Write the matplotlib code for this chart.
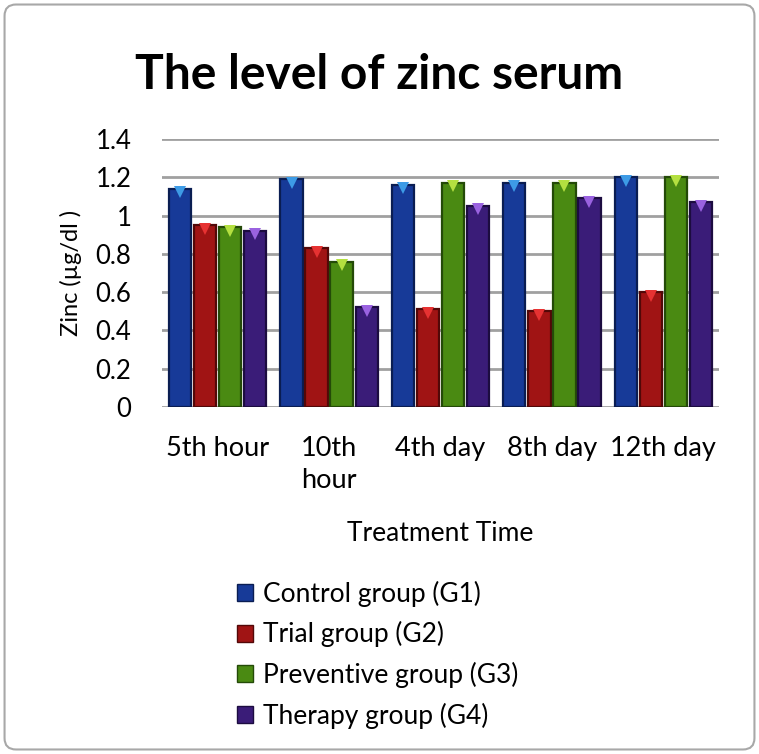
import numpy as np
import matplotlib
matplotlib.use("Agg")
import matplotlib.pyplot as plt
from matplotlib.patches import Patch, FancyBboxPatch

plt.rcParams['font.family'] = ['Lato', 'DejaVu Sans']

# Data
categories = ["5th hour", "10th\nhour", "4th day", "8th day", "12th day"]
groups = ["Control group (G1)", "Trial group (G2)", "Preventive group (G3)", "Therapy group (G4)"]
control = [1.14, 1.19, 1.16, 1.17, 1.20]
trial = [0.95, 0.83, 0.51, 0.50, 0.60]
preventive = [0.94, 0.76, 1.17, 1.17, 1.20]
therapy = [0.92, 0.52, 1.05, 1.09, 1.07]
yticks = [0, 0.2, 0.4, 0.6, 0.8, 1, 1.2, 1.4]
ytick_labels = ["0", "0.2", "0.4", "0.6", "0.8", "1", "1.2", "1.4"]

series = [control, trial, preventive, therapy]
colors = ["#173a98", "#a01414", "#4a8a12", "#3a1c78"]
edges = ["#0a1d52", "#520808", "#244a08", "#1c0c40"]
tips = ["#3d9be6", "#e63232", "#b4e040", "#9a62e0"]

fig = plt.figure(figsize=(7.59, 7.54), dpi=100)
ax = fig.add_axes([162 / 759, 1 - 407 / 754, 557 / 759, 268 / 754])

x = np.arange(len(categories))
width = 0.2
step = 0.225
for i, vals in enumerate(series):
    pos = x + (i - 1.5) * step
    ax.bar(pos, vals, width, color=colors[i], edgecolor=edges[i], linewidth=1.6, zorder=3)
    ax.plot(pos, np.array(vals) - 0.018, linestyle="none", marker="v", markersize=9,
            color=tips[i], markeredgewidth=0, zorder=4)

ax.set_xlim(-0.5, len(categories) - 0.5)
ax.set_ylim(0, 1.4)
ax.set_yticks(yticks)
ax.set_yticklabels(ytick_labels, fontsize=18.5)
ax.set_xticks(x)
ax.set_xticklabels(categories, fontsize=19.5, va="top", linespacing=1.35)
ax.tick_params(axis="y", length=0, pad=22)
ax.tick_params(axis="x", length=0, pad=21)
ax.grid(axis="y", color="#a0a0a0", linewidth=2, zorder=0)
for s in ax.spines.values():
    s.set_visible(False)
ax.set_axisbelow(True)

ax.set_ylabel("Zinc (µg/dl )", fontsize=17, labelpad=10)
ax.set_xlabel("Treatment Time", fontsize=19, labelpad=20)

fig.text(0.5, 1 - 75 / 754, "The level of zinc serum", ha="center", va="center",
         fontsize=34.5, fontweight="bold")

handles = [Patch(facecolor=colors[i], edgecolor=edges[i]) for i in range(len(groups))]
fig.legend(handles, groups, loc="upper left", bbox_to_anchor=(213 / 759, 1 - 557 / 754),
           frameon=False, fontsize=19, handlelength=0.62, handleheight=0.62,
           handletextpad=0.38, labelspacing=0.55)

fig.patches.append(FancyBboxPatch((0.006, 0.006), 0.988, 0.988,
                                  boxstyle="round,pad=0,rounding_size=0.015",
                                  transform=fig.transFigure, fill=False,
                                  edgecolor="#a8a8a8", linewidth=1.5))

fig.savefig("out.png", dpi=100)
